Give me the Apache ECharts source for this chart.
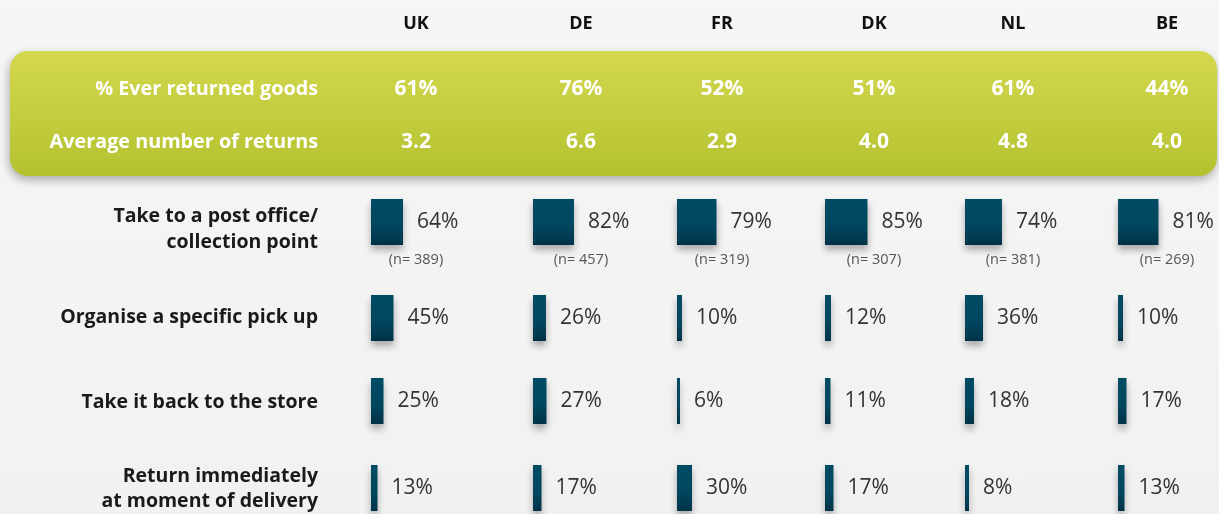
<!DOCTYPE html>
<html>
<head>
<meta charset="utf-8">
<script src="https://cdn.jsdelivr.net/npm/echarts@6/dist/echarts.min.js"></script>
<style>
  html, body { margin: 0; padding: 0; }
  body { width: 1219px; height: 514px; background: linear-gradient(#f6f6f6, #f1f1f1); }
  #chart { width: 1219px; height: 514px; }
</style>
</head>
<body>
<div id="chart"></div>
<script>
// ---- data ----
const countries = ['UK', 'DE', 'FR', 'DK', 'NL', 'BE'];
const everReturned = [61, 76, 52, 51, 61, 44];
const avgReturns = [3.2, 6.6, 2.9, 4.0, 4.8, 4.0];
const sampleN = [389, 457, 319, 307, 381, 269];
const methods = [
  'Take to a post office/\ncollection point',
  'Organise a specific pick up',
  'Take it back to the store',
  'Return immediately\nat moment of delivery'
];
const postOffice = [64, 82, 79, 85, 74, 81];
const pickUp = [45, 26, 10, 12, 36, 10];
const backToStore = [25, 27, 6, 11, 18, 17];
const atDelivery = [13, 17, 30, 17, 8, 13];
const statLabels = ['% Ever returned goods', 'Average number of returns'];

// ---- layout ----
const methodValues = [postOffice, pickUp, backToStore, atDelivery];
const colCenter = [416, 581, 722, 874, 1013, 1167];
const colBarX = [371, 533, 677, 825, 965, 1118];
const rowTop = [199, 295, 378, 465];
const rowLabelY = [229.5, 317, 402, 489];
const barH = 46;
const scaleW = 50; // px for 100%
const FONT = '"Open Sans", "Noto Sans", sans-serif';

const chart = echarts.init(document.getElementById('chart'));

const grids = [], xAxes = [], yAxes = [], series = [];
methods.forEach((m, i) => {
  countries.forEach((c, j) => {
    const k = grids.length;
    grids.push({ left: colBarX[j], top: rowTop[i], width: scaleW, height: barH, outerBoundsMode: 'none' });
    xAxes.push({ gridIndex: k, type: 'value', min: 0, max: 100, show: false });
    yAxes.push({ gridIndex: k, type: 'category', data: [c], show: false });
    series.push({
      type: 'bar', name: m, xAxisIndex: k, yAxisIndex: k, data: [methodValues[i][j]],
      barWidth: barH, silent: true, animation: false,
      itemStyle: {
        color: new echarts.graphic.LinearGradient(0, 0, 0, 1, [
          { offset: 0, color: '#004b64' }, { offset: 0.6, color: '#00465e' }, { offset: 1, color: '#003247' }
        ]),
        shadowBlur: 7, shadowOffsetY: 5, shadowColor: 'rgba(0,0,0,0.3)'
      },
      label: {
        show: true, position: 'right', distance: 14, formatter: '{c}%',
        fontFamily: FONT, fontSize: 21, color: '#333'
      }
    });
  });
});

const graphics = [];
// green stats box
graphics.push({
  type: 'rect', z: -1,
  shape: { x: 10, y: 51, width: 1207, height: 125, r: 18 },
  style: {
    fill: new echarts.graphic.LinearGradient(0, 0, 0, 1, [
      { offset: 0, color: '#d4d84e' }, { offset: 1, color: '#b4c22f' }
    ]),
    shadowBlur: 10, shadowOffsetY: 4, shadowOffsetX: -1, shadowColor: 'rgba(0,0,0,0.3)'
  }
});
function txt(x, y, text, font, fill, align, lh) {
  const st = { text: text, font: font, fill: fill, align: align, verticalAlign: 'middle',
               textAlign: align, textVerticalAlign: 'middle' };
  if (lh) st.lineHeight = lh;
  return { type: 'text', x: x, y: y, z: 10, style: st };
}
const statY = [89, 142];
statLabels.forEach((s, r) => graphics.push(txt(318, statY[r], s, 'bold 19.8px ' + FONT, '#ffffff', 'right')));
methods.forEach((m, i) => graphics.push(txt(318, rowLabelY[i], m, 'bold 19.5px ' + FONT, '#1a1a1a', 'right', 25.5)));
countries.forEach((c, j) => {
  graphics.push(txt(colCenter[j], 24, c, 'bold 18px ' + FONT, '#111111', 'center'));
  graphics.push(txt(colCenter[j], statY[0], everReturned[j] + '%', 'bold 21px ' + FONT, '#ffffff', 'center'));
  graphics.push(txt(colCenter[j], statY[1], avgReturns[j].toFixed(1), 'bold 21px ' + FONT, '#ffffff', 'center'));
  graphics.push(txt(colCenter[j], 260, '(n= ' + sampleN[j] + ')', '14.5px ' + FONT, '#555555', 'center'));
});

chart.setOption({
  animation: false,
  backgroundColor: 'transparent',
  grid: grids, xAxis: xAxes, yAxis: yAxes, series: series,
  graphic: graphics
});
</script>
</body>
</html>
